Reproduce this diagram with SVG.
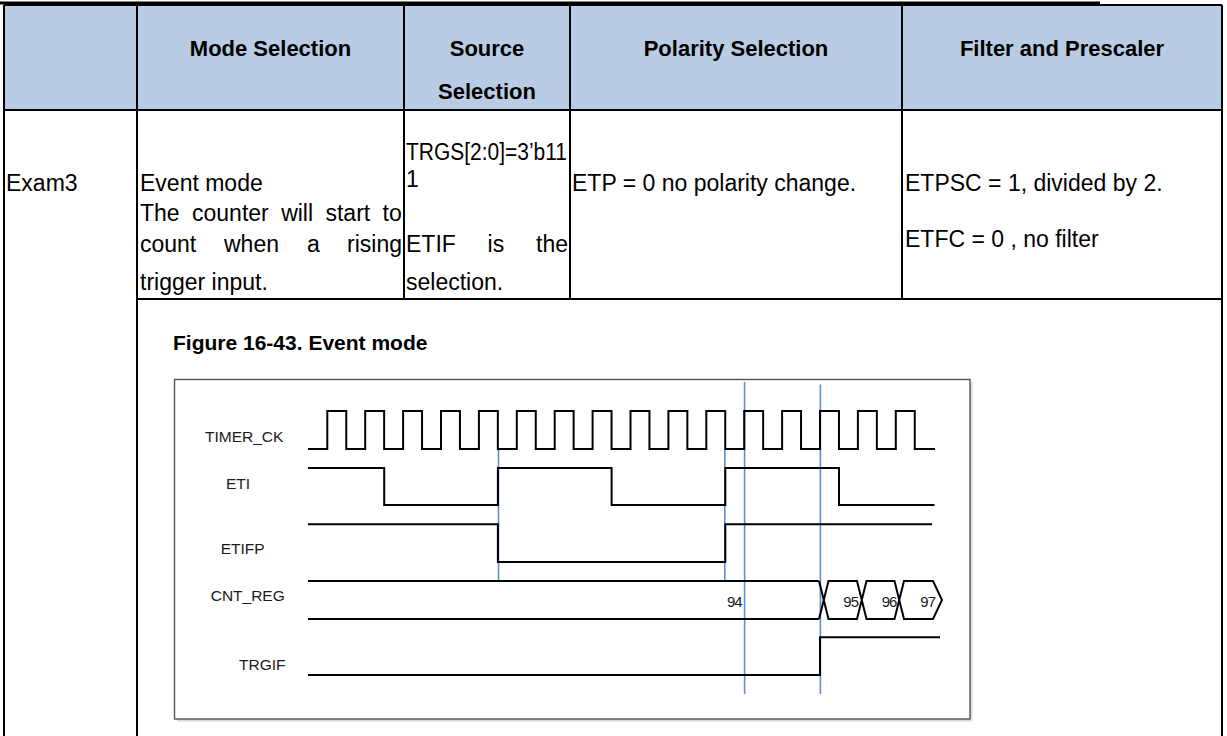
<svg xmlns="http://www.w3.org/2000/svg" width="1227" height="736" viewBox="0 0 1227 736">
<style>
.b{stroke:#000;stroke-width:2;fill:none}
.h{font-family:"Liberation Sans",Arial,sans-serif;font-weight:bold;font-size:22px;fill:#000;text-anchor:middle}
.t{font-family:"Liberation Sans",Arial,sans-serif;font-size:23px;fill:#000}
.lbl{font-family:"Liberation Sans",Arial,sans-serif;font-size:15.5px;fill:#1a1a1a}
.val{font-family:"Liberation Sans",Arial,sans-serif;font-size:15px;fill:#1a1a1a;letter-spacing:-1px;text-anchor:middle}
.w{stroke:#000;stroke-width:2;fill:none;stroke-linejoin:miter}
.bl{stroke:#5b8fd9;stroke-width:1.6}
</style>
<rect width="1227" height="736" fill="#fff"/>
<g id="table">
<rect x="4" y="5" width="1218" height="105" fill="#b8cce4"/>
<line x1="0" y1="3" x2="1100" y2="3" stroke="#000" stroke-width="3"/>
<line class="b" x1="4" y1="5" x2="1222" y2="5"/>
<line class="b" x1="4" y1="5" x2="4" y2="736"/>
<line class="b" x1="137" y1="5" x2="137" y2="736"/>
<line class="b" x1="404" y1="5" x2="404" y2="299"/>
<line class="b" x1="570" y1="5" x2="570" y2="299"/>
<line class="b" x1="902" y1="5" x2="902" y2="299"/>
<line class="b" x1="1222" y1="5" x2="1222" y2="736"/>
<line class="b" x1="4" y1="110" x2="1222" y2="110"/>
<line class="b" x1="137" y1="299" x2="1222" y2="299"/>
</g>
<g id="header">
<text class="h" x="270.5" y="56">Mode Selection</text>
<text class="h" x="487" y="56">Source</text>
<text class="h" x="487" y="99">Selection</text>
<text class="h" x="736" y="56">Polarity Selection</text>
<text class="h" x="1062" y="56">Filter and Prescaler</text>
</g>
<g id="row-exam3">
<text class="t" x="6" y="191">Exam3</text>
<text class="t" x="140" y="191">Event mode</text>
<text class="t" x="140" y="221" word-spacing="6">The counter will start to</text>
<text class="t" x="140" y="252">count</text>
<text class="t" x="224" y="252">when</text>
<text class="t" x="307" y="252">a</text>
<text class="t" x="402" y="252" text-anchor="end">rising</text>
<text class="t" x="140" y="290">trigger input.</text>
<text class="t" x="406" y="160" textLength="161" lengthAdjust="spacingAndGlyphs">TRGS[2:0]=3’b11</text>
<text class="t" x="406" y="187">1</text>
<text class="t" x="406" y="252">ETIF</text>
<text class="t" x="487.6" y="252">is</text>
<text class="t" x="568" y="252" text-anchor="end">the</text>
<text class="t" x="406" y="290">selection.</text>
<text class="t" x="572" y="191">ETP = 0 no polarity change.</text>
<text class="t" x="905" y="191">ETPSC = 1, divided by 2.</text>
<text class="t" x="905" y="247">ETFC = 0 , no filter</text>
</g>
<g id="figure">
<text x="173" y="350" font-family="'Liberation Sans',Arial,sans-serif" font-weight="bold" font-size="21px" fill="#000">Figure 16-43. Event mode</text>
<rect x="177" y="382" width="795.5" height="339.5" fill="#d9d9d9"/>
<rect x="174.5" y="379.5" width="795.5" height="339.5" fill="#fff" stroke="#555" stroke-width="1.4"/>
<g id="markers">
<line class="bl" x1="744.6" y1="382" x2="744.6" y2="694"/>
<line class="bl" x1="820.4" y1="384.6" x2="820.4" y2="694"/>
<line class="bl" x1="498.5" y1="449" x2="498.5" y2="581"/>
<line class="bl" x1="724.8" y1="450" x2="724.8" y2="581"/>
</g>
<g id="sig-timer-ck">
<text class="lbl" x="205" y="441.7">TIMER_CK</text>
<path class="w" d="M308,449 H327.3 V411 H346.25 V449 H365.2 V411 H384.15 V449 H403.1 V411 H422.05 V449 H441 V411 H459.95 V449 H478.9 V411 H497.85 V449 H516.8 V411 H535.75 V449 H554.7 V411 H573.65 V449 H592.6 V411 H611.55 V449 H630.5 V411 H649.45 V449 H668.4 V411 H687.35 V449 H706.3 V411 H725.25 V449 H744.2 V411 H763.15 V449 H782.1 V411 H801.05 V449 H820 V411 H838.95 V449 H857.9 V411 H876.85 V449 H895.8 V411 H914.75 V449 H935"/>
</g>
<g id="sig-eti">
<text class="lbl" x="226" y="489">ETI</text>
<path class="w" d="M308,468 H384.2 V505 H497.9 V468 H611.6 V505 H725.3 V468 H839 V505 H934.5"/>
</g>
<g id="sig-etifp">
<text class="lbl" x="220.7" y="554">ETIFP</text>
<path class="w" d="M308,524.3 H497.9 V562 H725.3 V524.3 H932"/>
</g>
<g id="sig-cnt-reg">
<text class="lbl" x="210.7" y="601">CNT_REG</text>
<path class="w" d="M308,581 H819 M308,619 H819"/>
<path class="w" d="M819,581 L828.5,619 H857 L866.5,581 H894.5 L904,619 H933 L942,600 L933,581 H904 L894.5,619 H866.5 L857,581 H828.5 L819,619"/>
<text class="val" x="734.3" y="607">94</text>
<text class="val" x="850.7" y="607">95</text>
<text class="val" x="889" y="607">96</text>
<text class="val" x="927.7" y="607">97</text>
</g>
<g id="sig-trgif">
<text class="lbl" x="239" y="670">TRGIF</text>
<path class="w" d="M308,675 H820 V637.3 H940"/>
</g>
</g>
</svg>
